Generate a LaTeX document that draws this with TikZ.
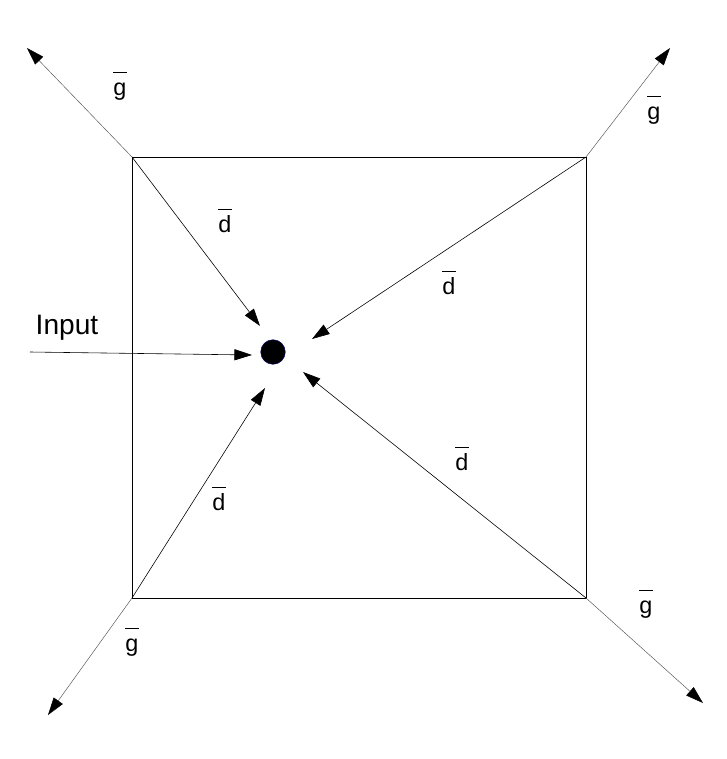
\documentclass[tikz,border=0pt]{standalone}
\usepackage{fontspec}
\setmainfont{Liberation Sans}
\usepackage{tikz}
\usetikzlibrary{arrows.meta,positioning}
\definecolor{edgegray}{HTML}{555555}
\newcommand{\barred}[1]{$\overline{\mbox{#1\rule{0pt}{0.89em}}}$}

\begin{document}
\begin{tikzpicture}[x=0.03cm,y=-0.03cm,font=\fontsize{20}{24}\selectfont,
    tip/.style={-{Triangle[length=15pt,width=9.5pt,color=black]}},
    inarrow/.style={tip,black,line width=0.5pt},
    outarrow/.style={tip,edgegray,line width=0.4pt},
    lbl/.style={inner sep=0pt,anchor=base}]
    \useasboundingbox (0,0) rectangle (726,759);
    % square corners
    \coordinate (tl) at (132,157);
    \coordinate (tr) at (586,157);
    \coordinate (br) at (586,598);
    \coordinate (bl) at (132,598);
    \draw[line width=0.6pt] (tl) rectangle (br);
    % central point
    \node[circle,fill=black,draw=blue!40!black,minimum size=21pt,inner sep=0pt] (dot) at (273,352) {};
    % arrow ends near the point
    \coordinate (etl) at (260,326);
    \coordinate (etr) at (312,339);
    \coordinate (ebr) at (303,372);
    \coordinate (ebl) at (265,388);
    \coordinate (ein) at (252,355);
    \coordinate (src) at (30,352);
    % outer arrow ends
    \coordinate (otl) at (27,48);
    \coordinate (otr) at (670,48);
    \coordinate (obr) at (703,703);
    \coordinate (obl) at (48,715);
    % d arrows
    \draw[inarrow] (tl)--(etl);
    \draw[inarrow] (tr)--(etr);
    \draw[inarrow] (br)--(ebr);
    \draw[inarrow] (bl)--(ebl);
    \draw[inarrow] (src)--(ein);
    % g arrows
    \draw[outarrow] (tl)--(otl);
    \draw[outarrow] (tr)--(otr);
    \draw[outarrow] (br)--(obr);
    \draw[outarrow] (bl)--(obl);
    % labels
    \node[lbl] (gtl) at (120,95) {\barred{g}};
    \node[lbl] (gtr) at (654,119) {\barred{g}};
    \node[lbl] (gbr) at (646,613) {\barred{g}};
    \node[lbl] (gbl) at (132,651) {\barred{g}};
    \node[lbl] (dtl) at (225,232) {\barred{d}};
    \node[lbl] (dtr) at (449,294) {\barred{d}};
    \node[lbl] (dbr) at (462,470) {\barred{d}};
    \node[lbl] (dbl) at (219,510) {\barred{d}};
    \node[lbl,font=\fontsize{24}{28}\selectfont] (input) at (67,334) {Input};
  \end{tikzpicture}
\end{document}
